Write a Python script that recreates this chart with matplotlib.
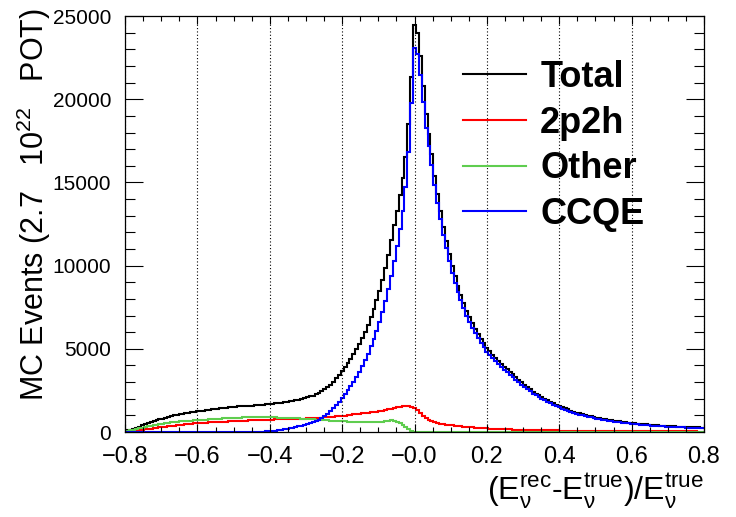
import numpy as np
import matplotlib
matplotlib.use('Agg')
import matplotlib.pyplot as plt
from matplotlib.lines import Line2D

plt.rcParams['font.family'] = ['Liberation Sans', 'DejaVu Sans']
plt.rcParams['mathtext.fontset'] = 'custom'
plt.rcParams['mathtext.rm'] = 'Liberation Sans'
plt.rcParams['mathtext.it'] = 'Liberation Sans:italic'

# binning of the histograms (201 bins of 0.008, centred on 0)
bin_lo, bin_hi, n_bins = -0.804, 0.804, 201

# events per bin
total = [
    60, 105, 150, 210, 270, 330, 400, 475, 540, 595,
    650, 705, 760, 810, 865, 910, 960, 1000, 1040, 1075,
    1110, 1135, 1165, 1190, 1210, 1235, 1265, 1290, 1320, 1345,
    1370, 1390, 1405, 1425, 1440, 1460, 1480, 1500, 1525, 1535,
    1550, 1565, 1570, 1580, 1590, 1595, 1610, 1615, 1635, 1655,
    1675, 1690, 1720, 1740, 1765, 1790, 1815, 1840, 1875, 1910,
    1950, 1995, 2035, 2085, 2135, 2190, 2265, 2345, 2455, 2575,
    2700, 2855, 3025, 3220, 3435, 3660, 3910, 4145, 4405, 4675,
    4970, 5305, 5670, 6035, 6450, 6920, 7400, 7930, 8470, 9120,
    9830, 10650, 11510, 12420, 13290, 14250, 15270, 16550, 18510, 21360,
    24470, 24000, 22600, 20800, 19100, 17900, 16700, 15400, 14300, 13300,
    12300, 11500, 10700, 9950, 9350, 8750, 8250, 7750, 7300, 6900,
    6550, 6200, 5900, 5600, 5320, 5050, 4850, 4650, 4450, 4250,
    4080, 3920, 3760, 3610, 3460, 3300, 3140, 2990, 2840, 2700,
    2560, 2430, 2310, 2200, 2100, 2000, 1910, 1820, 1730, 1650,
    1570, 1500, 1430, 1360, 1290, 1230, 1170, 1120, 1070, 1020,
    980, 940, 900, 860, 830, 800, 770, 740, 710, 680,
    660, 640, 610, 590, 570, 550, 530, 510, 490, 475,
    460, 445, 430, 415, 400, 390, 380, 370, 360, 350,
    340, 330, 320, 310, 300, 295, 290, 280, 275, 270,
    265,
]

twop2h = [
    20, 35, 50, 70, 90, 110, 130, 155, 180, 205,
    230, 255, 280, 300, 325, 345, 370, 390, 410, 430,
    450, 465, 485, 500, 515, 530, 545, 555, 570, 580,
    590, 600, 605, 615, 620, 630, 640, 650, 665, 670,
    680, 690, 690, 700, 705, 710, 715, 720, 730, 735,
    740, 745, 755, 760, 765, 770, 770, 775, 780, 785,
    790, 800, 805, 815, 820, 830, 845, 860, 870, 885,
    900, 915, 925, 940, 955, 970, 990, 1015, 1040, 1060,
    1080, 1100, 1120, 1140, 1160, 1180, 1205, 1230, 1260, 1290,
    1320, 1360, 1410, 1450, 1480, 1520, 1540, 1550, 1540, 1500,
    1420, 1300, 1130, 960, 820, 710, 640, 580, 540, 500,
    470, 445, 420, 400, 380, 360, 340, 320, 305, 290,
    275, 260, 250, 240, 230, 220, 210, 200, 190, 180,
    170, 165, 160, 155, 150, 145, 140, 135, 130, 125,
    120, 117, 114, 111, 108, 105, 102, 99, 96, 93,
    90, 88, 86, 84, 82, 80, 78, 76, 74, 72,
    70, 68, 67, 66, 65, 64, 63, 62, 61, 60,
    58, 57, 56, 55, 54, 53, 52, 51, 50, 49,
    48, 47, 46, 45, 44, 43, 42, 41, 40, 39,
    38, 37, 36, 35, 34, 33, 32, 31, 30, 29,
    28,
]

other = [
    40, 70, 100, 140, 180, 220, 270, 320, 360, 390,
    420, 450, 480, 510, 540, 565, 590, 610, 630, 645,
    660, 670, 680, 690, 695, 705, 720, 735, 750, 765,
    780, 790, 800, 810, 820, 830, 840, 850, 860, 865,
    870, 875, 880, 880, 885, 880, 885, 880, 880, 880,
    880, 875, 875, 870, 865, 860, 855, 845, 840, 830,
    820, 810, 800, 790, 775, 760, 750, 735, 725, 710,
    700, 690, 680, 670, 660, 650, 640, 630, 625, 615,
    610, 605, 600, 595, 590, 590, 595, 600, 610, 630,
    660, 690, 700, 670, 610, 530, 430, 300, 170, 60,
] + [0] * 101

ccqe = [0] * 45 + [
    5, 10, 15, 25, 40,
    55, 70, 90, 110, 135, 160, 190, 220, 255, 295,
    340, 385, 430, 480, 540, 600, 670, 750, 860, 980,
    1100, 1250, 1420, 1610, 1820, 2040, 2280, 2500, 2740, 3000,
    3280, 3600, 3950, 4300, 4700, 5150, 5600, 6100, 6600, 7200,
    7850, 8600, 9400, 10300, 11200, 12200, 13300, 14700, 16800, 19800,
    23050, 22700, 21470, 19840, 18280, 17190, 16060, 14820, 13760, 12800,
    11830, 11055, 10280, 9550, 8970, 8390, 7910, 7430, 6995, 6610,
    6275, 5940, 5650, 5360, 5090, 4830, 4640, 4450, 4260, 4070,
    3910, 3755, 3600, 3455, 3310, 3155, 3000, 2855, 2710, 2575,
    2440, 2313, 2196, 2089, 1992, 1895, 1808, 1721, 1634, 1557,
    1480, 1412, 1344, 1276, 1208, 1150, 1092, 1044, 996, 948,
    910, 872, 833, 794, 765, 736, 707, 678, 649, 620,
    602, 583, 554, 535, 516, 497, 478, 459, 440, 426,
    412, 398, 384, 370, 356, 347, 338, 329, 320, 311,
    302, 293, 284, 275, 266, 262, 258, 249, 245, 241,
    237,
]

labels = ['Total', '2p2h', 'Other', 'CCQE']
colors = ['black', '#ff0000', '#5fcd4f', '#0000ff']
xtick_vals = [-0.8, -0.6, -0.4, -0.2, 0.0, 0.2, 0.4, 0.6, 0.8]
xtick_text = ['\u22120.8', '\u22120.6', '\u22120.4', '\u22120.2', '\u22120.0',
              '0.2', '0.4', '0.6', '0.8']
ytick_vals = [0, 5000, 10000, 15000, 20000, 25000]

edges = np.linspace(bin_lo, bin_hi, n_bins + 1)

fig = plt.figure(figsize=(7.36, 5.17), dpi=100)
ax = fig.add_axes([0.170, 0.1644, 0.7865, 0.8046])

for vals, col in zip([total, twop2h, other, ccqe], colors):
    ax.stairs(vals, edges, color=col, lw=1.5, baseline=None)

ax.set_xlim(-0.8, 0.8)
ax.set_ylim(0, 25000)

# ROOT-like axes: ticks inside on all four sides
ax.set_xticks(xtick_vals)
ax.set_xticklabels(xtick_text)
ax.set_xticks(np.arange(-0.8, 0.801, 0.05), minor=True)
ax.set_yticks(ytick_vals)
ax.set_yticks(np.arange(0, 25001, 1000), minor=True)
ax.tick_params(axis='both', which='both', direction='in', top=True, right=True,
               width=0.8, color='black')
ax.tick_params(axis='x', which='major', length=6, labelsize=17, pad=10)
ax.tick_params(axis='x', which='minor', length=3.6)
ax.tick_params(axis='y', which='major', length=13, labelsize=15, pad=10)
ax.tick_params(axis='y', which='minor', length=7)
for s in ax.spines.values():
    s.set_linewidth(0.9)

# dotted vertical grid
ax.xaxis.grid(True, which='major', color='black', linestyle=(0, (1, 2)), lw=0.8)
ax.set_axisbelow(False)

ax.set_ylabel('MC Events (2.7   10$^{22}$   POT)', fontsize=22, loc='top')
ax.yaxis.set_label_coords(-0.125, 1.018)
ax.set_xlabel(r'$(\mathrm{E}_{\mathrm{ν}}^{\mathrm{rec}}\text{-}\mathrm{E}_{\mathrm{ν}}^{\mathrm{true}})/\mathrm{E}_{\mathrm{ν}}^{\mathrm{true}}$',
              fontsize=23, loc='right')
ax.xaxis.set_label_coords(1.0, -0.095)

handles = [Line2D([], [], color=c, lw=1.5) for c in colors]
ax.legend(handles, labels, loc='upper left', bbox_to_anchor=(0.629, 0.884),
          bbox_transform=fig.transFigure, frameon=False, borderpad=0,
          borderaxespad=0, handlelength=1.75, handletextpad=0.39,
          labelspacing=0.295, prop={'weight': 'bold', 'size': 26})

fig.savefig('out.png', dpi=100)
